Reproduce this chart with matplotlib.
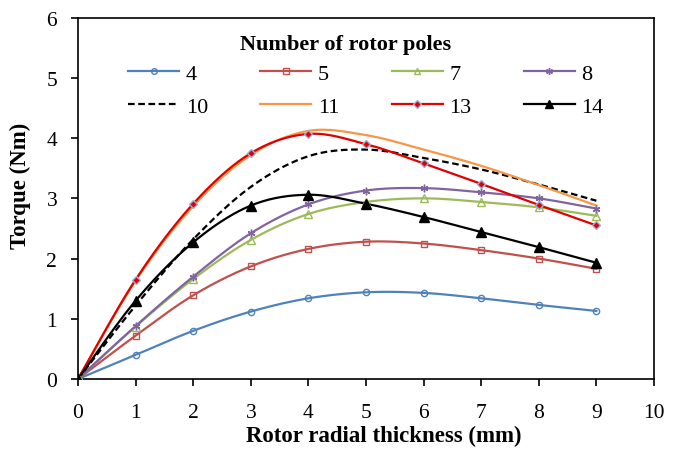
import numpy as np
import matplotlib
matplotlib.use("Agg")
import matplotlib.pyplot as plt
from matplotlib.lines import Line2D

plt.rcParams['font.family'] = ['Liberation Serif', 'DejaVu Serif']

x_vals = [0, 1, 2, 3, 4, 5, 6, 7, 8, 9]
poles = ["4", "5", "7", "8", "10", "11", "13", "14"]
t4 = [0, 0.40, 0.80, 1.12, 1.34, 1.44, 1.43, 1.34, 1.23, 1.13]
t5 = [0, 0.72, 1.39, 1.87, 2.16, 2.28, 2.25, 2.14, 2.00, 1.83]
t7 = [0, 0.87, 1.66, 2.31, 2.74, 2.94, 3.00, 2.94, 2.85, 2.71]
t8 = [0, 0.88, 1.70, 2.42, 2.90, 3.13, 3.17, 3.10, 3.00, 2.83]
t10 = [0, 1.22, 2.32, 3.19, 3.70, 3.81, 3.67, 3.48, 3.23, 2.96]
t11 = [0, 1.63, 2.87, 3.72, 4.12, 4.05, 3.81, 3.54, 3.22, 2.88]
t13 = [0, 1.65, 2.91, 3.75, 4.07, 3.90, 3.58, 3.24, 2.89, 2.55]
t14 = [0, 1.30, 2.27, 2.88, 3.06, 2.91, 2.69, 2.44, 2.19, 1.93]
series = [t4, t5, t7, t8, t10, t11, t13, t14]

styles = [
    dict(color='#4F81BD', marker='o', mfc='none', mec='#4F81BD', ms=4.5, ls='-'),
    dict(color='#C0504D', marker='s', mfc='none', mec='#C0504D', ms=4.8, ls='-'),
    dict(color='#9BBB59', marker='^', mfc='none', mec='#9BBB59', ms=5.2, ls='-'),
    dict(color='#8064A2', marker=(6, 2, 0), mfc='none', mec='#8064A2', ms=5.5, ls='-'),
    dict(color='black', marker='None', ls=(0, (3, 1.6))),
    dict(color='#F79646', marker='None', ls='-'),
    dict(color='#E00000', marker='D', mfc='#E00000', mec='#95B3D7', ms=4.2, ls='-'),
    dict(color='black', marker='^', mfc='black', mec='black', ms=6.5, ls='-'),
]


def smooth(xs, ys, n=30):
    xs = np.asarray(xs, float)
    ys = np.asarray(ys, float)
    P = np.column_stack([xs, ys])
    out = []
    m = len(P)
    for i in range(m - 1):
        p0 = P[max(i - 1, 0)]
        p1 = P[i]
        p2 = P[i + 1]
        p3 = P[min(i + 2, m - 1)]
        c1 = p1 + (p2 - p0) / 6.0
        c2 = p2 - (p3 - p1) / 6.0
        t = np.linspace(0, 1, n)[:, None]
        seg = ((1 - t) ** 3) * p1 + 3 * ((1 - t) ** 2) * t * c1 + 3 * (1 - t) * t ** 2 * c2 + t ** 3 * p2
        if i > 0:
            seg = seg[1:]
        out.append(seg)
    out = np.vstack(out)
    return out[:, 0], out[:, 1]


W, H = 682, 452
fig = plt.figure(figsize=(W / 100, H / 100), dpi=100)
ax = fig.add_axes([78 / W, 1 - 380 / H, (654 - 78) / W, (380 - 18.7) / H])

handles = []
for name, ys, st in zip(poles, series, styles):
    sx, sy = smooth(x_vals, ys)
    ax.plot(sx, sy, color=st['color'], ls=st['ls'], lw=1.6, zorder=2)
    if st['marker'] != 'None':
        ax.plot(x_vals, ys, ls='none', marker=st['marker'], mfc=st['mfc'],
                mec=st['mec'], ms=st['ms'], mew=1.0, zorder=3)
        h = Line2D([], [], color=st['color'], ls=st['ls'], lw=1.6, marker=st['marker'],
                   mfc=st['mfc'], mec=st['mec'], ms=st['ms'] * 0.9, mew=1.0)
    else:
        h = Line2D([], [], color=st['color'], ls=st['ls'], lw=1.6)
    handles.append(h)

ax.set_xlim(0, 10)
ax.set_ylim(0, 6)
ax.set_xticks(range(0, 11))
ax.set_yticks(range(0, 7))
ax.tick_params(axis='both', labelsize=15.5, direction='out', length=5, width=1.2, color='black')
ax.tick_params(axis='x', pad=12)
ax.tick_params(axis='y', pad=10)
for s in ax.spines.values():
    s.set_linewidth(1.2)
ax.set_xlabel('Rotor radial thickness (mm)', fontsize=16.5, fontweight='bold')
ax.set_ylabel('Torque (Nm)', fontsize=16.5, fontweight='bold')
ax.xaxis.set_label_coords((383.5 - 78) / 576, -(426 - 380) / 361.3)
ax.yaxis.set_label_coords(-(78 - 31) / 576, (380 - 186) / 361.3)

# legend in row-major order (matplotlib fills columns first)
order = [0, 4, 1, 5, 2, 6, 3, 7]
leg = ax.legend([handles[i] for i in order], [poles[i] for i in order], ncol=4, frameon=False,
                loc='upper left', bbox_to_anchor=(128 / W, 1 - 64 / H),
                bbox_transform=fig.transFigure, fontsize=16,
                handlelength=2.3, handletextpad=0.3, columnspacing=2.35,
                labelspacing=0.58, borderaxespad=0, borderpad=0)
ax.text((345.5 - 78) / 576, (380 - 45) / 361.3, 'Number of rotor poles', transform=ax.transAxes,
        ha='center', va='center', fontsize=16, fontweight='bold')

fig.savefig('out.png', dpi=100)
